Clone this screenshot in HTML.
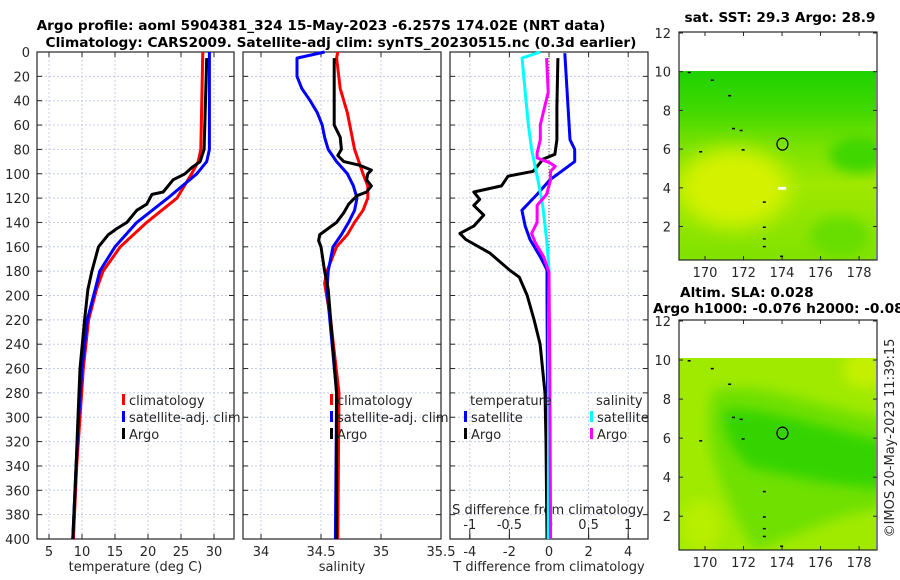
<!DOCTYPE html>
<html><head><meta charset="utf-8"><style>
html,body{margin:0;padding:0;background:#fff;}
svg{display:block;font-family:"DejaVu Sans","Liberation Sans",sans-serif;}
.tk{font-size:13px;fill:#262626;}
.ttl{font-size:13.7px;font-weight:bold;fill:#000;}
</style></head><body>
<svg id="fig" width="900" height="580" viewBox="0 0 900 580" xmlns="http://www.w3.org/2000/svg">
<defs>
<filter id="blur4" x="-20%" y="-20%" width="140%" height="140%"><feGaussianBlur stdDeviation="6"/></filter>
<filter id="blur8" x="-20%" y="-20%" width="140%" height="140%"><feGaussianBlur stdDeviation="10"/></filter>
<linearGradient id="sstg" x1="0" y1="0" x2="0" y2="1">
<stop offset="0" stop-color="#1ed200"/><stop offset="0.2" stop-color="#40d800"/><stop offset="0.4" stop-color="#7ae200"/><stop offset="0.6" stop-color="#a0e800"/><stop offset="1" stop-color="#80e200"/>
</linearGradient>
<clipPath id="m1clip"><rect x="679" y="71" width="197" height="189"/></clipPath>
<clipPath id="m2clip"><rect x="679" y="358" width="197" height="192"/></clipPath>
</defs>
<text class="ttl" x="321" y="30" text-anchor="middle">Argo profile: aoml 5904381_324 15-May-2023 -6.257S 174.02E (NRT data)</text>
<text class="ttl" x="341" y="47" text-anchor="middle">Climatology: CARS2009. Satellite-adj clim: synTS_20230515.nc (0.3d earlier)</text>
<g id="plots"></g>
<g id="maps"></g>
<text class="tk" transform="translate(894,438) rotate(-90)" text-anchor="middle">©IMOS 20-May-2023 11:39:15</text>
</svg>
<script>
// ---- data ----
const yTicks = [0,20,40,60,80,100,120,140,160,180,200,220,240,260,280,300,320,340,360,380,400];
const tTicks = [5,10,15,20,25,30];
const sTicks = [34,34.5,35,35.5];
const sTickLabels = ['34','34.5','35','35.5'];
const dTTicks = [-4,-2,0,2,4];
const dSTicks = [-1,-0.5,0,0.5,1];
const dSTickLabels = ['-1','-0.5','0','0.5','1'];

const tClimP = [0,80,90,100,120,140,160,180,195,220,260,300,340,400];
const tClim  = [28.3,28.0,27.6,26.6,24.4,19.8,15.8,13.2,12.2,11.0,10.2,9.7,9.2,8.7];
const tSatP = [0,80,90,100,120,140,160,180,195,220,260,300,340,400];
const tSat  = [29.3,29.3,28.9,27.4,23.0,18.3,15.0,12.7,12.0,10.8,10.0,9.5,9.1,8.6];
const tArgoP = [5,80,90,95,100,105,115,117,125,130,140,145,150,160,170,180,195,220,260,300,340,400];
const tArgo  = [28.9,28.5,27.9,26.6,25.6,23.8,22.3,20.6,19.8,18.3,16.8,15.3,14.0,12.5,12.0,11.5,10.9,10.4,9.7,9.4,9.1,8.6];

const sClimP = [0,5,30,50,80,100,110,120,130,140,150,160,180,190,220,280,400];
const sClim  = [34.64,34.63,34.66,34.72,34.78,34.85,34.89,34.89,34.85,34.78,34.72,34.63,34.55,34.53,34.58,34.65,34.64];
const sSatP = [0,5,20,30,40,50,60,70,80,90,100,110,120,130,140,150,160,180,195,280,400];
const sSat  = [34.53,34.30,34.30,34.34,34.41,34.47,34.51,34.53,34.56,34.63,34.72,34.77,34.80,34.78,34.73,34.67,34.60,34.56,34.55,34.63,34.62];
const sArgoP = [5,60,70,80,85,90,93,97,100,105,110,115,118,125,132,140,145,150,155,160,180,195,280,400];
const sArgo  = [34.61,34.61,34.66,34.67,34.64,34.69,34.82,34.92,34.89,34.88,34.92,34.88,34.80,34.73,34.69,34.63,34.56,34.49,34.48,34.50,34.53,34.56,34.63,34.63];

const dTSatP = [1,72,80,90,105,117,130,143,154,168,179,200,260,400];
const dTSat  = [0.8,1.06,1.3,1.3,0.05,-0.6,-1.37,-1.2,-0.96,-0.45,-0.1,-0.1,-0.08,-0.05];
const dTArgoP = [5,45,72,84,88,98,102,110,115,121,126,134,143,149,154,165,179,185,200,220,240,280,320,400];
const dTArgo  = [0.45,0.4,0.4,0.3,-0.3,-0.8,-2.07,-2.4,-3.8,-3.5,-3.8,-3.3,-3.8,-4.5,-4.2,-3.0,-2.0,-1.5,-1.1,-0.75,-0.45,-0.2,-0.15,-0.1];
const dSSatP = [0,5,33,60,80,105,126,154,178,400];
const dSSat  = [-0.11,-0.34,-0.30,-0.26,-0.22,-0.14,-0.08,-0.03,0.0,-0.01];
const dSArgoP = [5,33,60,72,83,87,91,94,98,105,117,126,140,149,157,168,181,260,400];
const dSArgo  = [-0.03,-0.01,-0.11,-0.11,-0.15,-0.15,0.01,0.08,0.02,0.02,-0.03,-0.15,-0.15,-0.22,-0.17,-0.07,0.0,0.01,0.02];

const latTicks = [2,4,6,8,10,12];
const lonTicks = [170,172,174,176,178];
const argoLon = 174.02, argoLat = 6.257;

// ---- helpers ----
const NS='http://www.w3.org/2000/svg';
const plots=document.getElementById('plots');
const maps=document.getElementById('maps');
function mk(tag,attrs,parent){const e=document.createElementNS(NS,tag);for(const k in attrs)e.setAttribute(k,attrs[k]);(parent||plots).appendChild(e);return e;}
const PT=52, PB=539;
const yP = p => PT + (p/400)*(PB-PT);
function lin(d0,d1,r0,r1){return v=>r0+(v-d0)/(d1-d0)*(r1-r0);}

function panel(name,L,R,xf,ticks,labels,xlabel){
  const g=mk('g',{});
  
  
  yTicks.forEach(p=>{ if(p>0&&p<400){const l=mk('line',{x1:L,x2:R,y1:yP(p),y2:yP(p),stroke:'#c4cdee','stroke-width':1,'stroke-dasharray':'2,2'},g);}
    mk('line',{x1:L,x2:L+5,y1:yP(p),y2:yP(p),stroke:'#262626'},g);mk('line',{x1:R-5,x2:R,y1:yP(p),y2:yP(p),stroke:'#262626'},g);});
  ticks.forEach((t,i)=>{const x=xf(t);
    const l=mk('line',{x1:x,x2:x,y1:PT,y2:PB,stroke:'#c4cdee','stroke-width':1,'stroke-dasharray':'2,2'},g);
    mk('line',{x1:x,x2:x,y1:PB-5,y2:PB,stroke:'#262626'},g);mk('line',{x1:x,x2:x,y1:PT,y2:PT+5,stroke:'#262626'},g);
    if(labels){const tx=mk('text',{x:x,y:PB+17,class:'tk','text-anchor':'middle'},g);tx.textContent=labels[i];}
  });
  const fr=mk('rect',{x:L,y:PT,width:R-L,height:PB-PT,fill:'none',stroke:'#262626','stroke-width':1.2},g);
  
  if(xlabel){const t=mk('text',{x:(L+R)/2,y:PB+32,class:'tk','text-anchor':'middle'},g);t.textContent=xlabel;}
  return g;
}
function series(g,name,P,V,xf,color,w){
  const d=P.map((p,i)=>(i?'L':'M')+xf(V[i]).toFixed(1)+','+yP(p).toFixed(1)).join('');
  const e=mk('path',{d:d,fill:'none',stroke:color,'stroke-width':w||3,'stroke-linejoin':'round'},g);
  
}
function legendEntry(g,name,x,y,color,label){
  const r=mk('rect',{x:x,y:y-6,width:3,height:11,fill:color},g);
  const t=mk('text',{x:x+7,y:y+5,class:'tk'},g);t.textContent=label;
  
  
}

// y tick labels (panel 1)
yTicks.forEach(p=>{const t=mk('text',{x:30,y:yP(p)+5,class:'tk','text-anchor':'end'});t.textContent=p;});

// panel 1 temperature
const xT=lin(5,30,49,214);
const g1=panel('temperature-panel',37,234,xT,tTicks,tTicks.map(String),'temperature (deg C)');
series(g1,'temperature-climatology-line',tClimP,tClim,xT,'#ff0000');
series(g1,'temperature-satellite-line',tSatP,tSat,xT,'#0000ff');
series(g1,'temperature-argo-line',tArgoP,tArgo,xT,'#000000');
legendEntry(g1,'legend-climatology',122,400,'#ff0000','climatology');
legendEntry(g1,'legend-satellite-adj',122,417,'#0000ff','satellite-adj. clim');
legendEntry(g1,'legend-argo',122,434,'#000000','Argo');

// panel 2 salinity
const xS=lin(34,35.5,261,441);
const g2=panel('salinity-panel',243,441,xS,sTicks,sTickLabels,'salinity');
series(g2,'salinity-climatology-line',sClimP,sClim,xS,'#ff0000');
series(g2,'salinity-satellite-line',sSatP,sSat,xS,'#0000ff');
series(g2,'salinity-argo-line',sArgoP,sArgo,xS,'#000000');
legendEntry(g2,'legend-climatology-s',330,400,'#ff0000','climatology');
legendEntry(g2,'legend-satellite-adj-s',330,417,'#0000ff','satellite-adj. clim');
legendEntry(g2,'legend-argo-s',330,434,'#000000','Argo');

// panel 3 differences
const xdT=lin(-5,5,450,648);
const xdS=lin(-1.25,1.25,450,648);
const g3=panel('difference-panel',450,648,xdT,dTTicks,dTTicks.map(String),'T difference from climatology');
dSTicks.forEach((s,i)=>{const x=xdS(s);mk('line',{x1:x,x2:x,y1:PB-10,y2:PB,stroke:'#262626'},g3);
  const t=mk('text',{x:x,y:PB-10,class:'tk','text-anchor':'middle'},g3);t.textContent=dSTickLabels[i];});
{const t=mk('text',{x:548,y:PB-25,class:'tk','text-anchor':'middle'},g3);t.textContent='S difference from climatology';}
{const z=mk('line',{x1:xdT(0),x2:xdT(0),y1:PT,y2:PB,stroke:'#555533','stroke-width':1,'stroke-dasharray':'1,2'},g3);}
series(g3,'dt-satellite-line',dTSatP,dTSat,xdT,'#0000ff');
series(g3,'dt-argo-line',dTArgoP,dTArgo,xdT,'#000000');
series(g3,'ds-satellite-line',dSSatP,dSSat,xdS,'#00ffff');
series(g3,'ds-argo-line',dSArgoP,dSArgo,xdS,'#ff00ff');
{const t=mk('text',{x:470,y:405,class:'tk'},g3);t.textContent='temperature';}
{const t=mk('text',{x:596,y:405,class:'tk'},g3);t.textContent='salinity';}
legendEntry(g3,'legend-dt-satellite',464,417,'#0000ff','satellite');
legendEntry(g3,'legend-dt-argo',464,434,'#000000','Argo');
legendEntry(g3,'legend-ds-satellite',590,417,'#00ffff','satellite');
legendEntry(g3,'legend-ds-argo',590,434,'#ff00ff','Argo');

// ---- maps ----
function mapAxes(name,top,bottom){
  const g=mk('g',{},maps);
  
  const L=679,R=877;
  const lonX=lin(168.65,178.93,L,R);
  const latY=lin(12,2,top+1,top+1+(bottom-top-1)*(10/11.73));
  return {g,L,R,top,bottom,lonX,latY};
}
function mapFrame(m){
  const g=m.g;
  latTicks.forEach(v=>{const y=m.latY(v);mk('line',{x1:m.L,x2:m.L+4,y1:y,y2:y,stroke:'#262626'},g);mk('line',{x1:m.R-4,x2:m.R,y1:y,y2:y,stroke:'#262626'},g);
    const t=mk('text',{x:m.L-8,y:y+5,class:'tk','text-anchor':'end'},g);t.textContent=v;});
  lonTicks.forEach(v=>{const x=m.lonX(v);mk('line',{x1:x,x2:x,y1:m.bottom-4,y2:m.bottom,stroke:'#262626'},g);mk('line',{x1:x,x2:x,y1:m.top,y2:m.top+4,stroke:'#262626'},g);
    const t=mk('text',{x:x,y:m.bottom+17,class:'tk','text-anchor':'middle'},g);t.textContent=v;});
  const f=mk('rect',{x:m.L,y:m.top,width:m.R-m.L,height:m.bottom-m.top,fill:'none',stroke:'#262626','stroke-width':1.2},g);
  
  const c=mk('ellipse',{cx:m.lonX(argoLon),cy:m.latY(argoLat),rx:5.5,ry:6,fill:'none',stroke:'#000','stroke-width':1.2},g);
  
  [[169.1,10],[170.3,9.6],[171.2,8.8],[171.4,7.1],[171.8,7],[169.7,5.9],[171.9,6],[173,3.3],[173,2],[173,1.4],[173,1],[173.9,0.5]].forEach(q=>{
    const s=mk('rect',{x:m.lonX(q[0]),y:m.latY(q[1]),width:3,height:1.5,fill:'#000'},g);});
}
// map 1: SST
const m1=mapAxes('sst-map',32,260);
{const t=mk('text',{x:780,y:22,class:'ttl','text-anchor':'middle'},m1.g);t.textContent='sat. SST: 29.3 Argo: 28.9';}
{const cg=mk('g',{'clip-path':'url(#m1clip)'},m1.g);
 mk('rect',{x:679,y:71,width:197,height:189,fill:'url(#sstg)'},cg);
 mk('ellipse',{cx:m1.lonX(171.5),cy:m1.latY(4),rx:55,ry:40,fill:'#d4f200',filter:'url(#blur8)'},cg);
 mk('ellipse',{cx:m1.lonX(178),cy:m1.latY(5.7),rx:30,ry:18,fill:'#40d600',filter:'url(#blur4)'},cg);
 mk('ellipse',{cx:m1.lonX(177),cy:m1.latY(1.5),rx:30,ry:20,fill:'#68de00',filter:'url(#blur4)'},cg);
 mk('rect',{x:m1.lonX(173.8),y:m1.latY(4.05),width:8,height:3,fill:'#fff'},cg);}
mapFrame(m1);
// map 2: SLA
const m2=mapAxes('sla-map',320,550);
{const t=mk('text',{x:680,y:297,class:'ttl'},m2.g);t.textContent='Altim. SLA: 0.028';}
{const t=mk('text',{x:653,y:313,class:'ttl'},m2.g);t.textContent='Argo h1000: -0.076 h2000: -0.081';}
{const cg=mk('g',{'clip-path':'url(#m2clip)'},m2.g);
 mk('rect',{x:679,y:358,width:197,height:192,fill:'#a0ea00'},cg);
 mk('path',{d:`M${m2.lonX(170.5)},${m2.latY(8.5)} C${m2.lonX(173)},${m2.latY(9)} ${m2.lonX(176)},${m2.latY(7.5)} ${m2.lonX(179.5)},${m2.latY(7)} L${m2.lonX(179.5)},${m2.latY(2.5)} C${m2.lonX(176)},${m2.latY(2)} ${m2.lonX(174)},${m2.latY(0.5)} ${m2.lonX(172.5)},${m2.latY(0.3)} C${m2.lonX(171)},${m2.latY(3)} ${m2.lonX(169.5)},${m2.latY(6)} ${m2.lonX(170.5)},${m2.latY(8.5)}Z`,fill:'#70e000',filter:'url(#blur4)'},cg);
 mk('path',{d:`M${m2.lonX(171)},${m2.latY(7.5)} C${m2.lonX(173)},${m2.latY(7.6)} ${m2.lonX(176)},${m2.latY(6.6)} ${m2.lonX(179.5)},${m2.latY(5.8)} L${m2.lonX(179.5)},${m2.latY(3.4)} C${m2.lonX(176)},${m2.latY(3.6)} ${m2.lonX(174)},${m2.latY(4.2)} ${m2.lonX(172.3)},${m2.latY(4.5)} C${m2.lonX(171.3)},${m2.latY(5.5)} ${m2.lonX(170.8)},${m2.latY(6.5)} ${m2.lonX(171)},${m2.latY(7.5)}Z`,fill:'#34d400',filter:'url(#blur4)'},cg);
 mk('ellipse',{cx:m2.lonX(178.3),cy:m2.latY(9.5),rx:22,ry:18,fill:'#c4f000',filter:'url(#blur4)'},cg);
 mk('ellipse',{cx:m2.lonX(169.8),cy:m2.latY(1.5),rx:20,ry:25,fill:'#b8ee00',filter:'url(#blur4)'},cg);}
mapFrame(m2);
</script>
</body></html>
